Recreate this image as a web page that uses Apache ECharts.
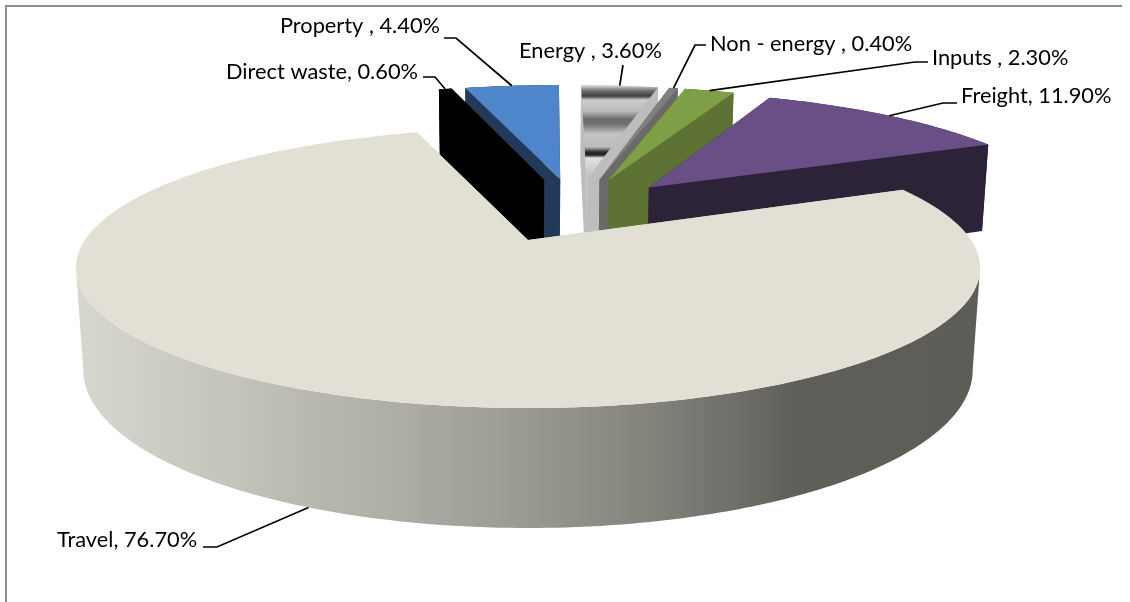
<!DOCTYPE html>
<html>
<head>
<meta charset="utf-8">
<style>html,body{margin:0;padding:0;background:#fff}#c{width:1130px;height:602px}</style>
<script src="https://cdn.jsdelivr.net/npm/echarts@6/dist/echarts.min.js"></script>
</head>
<body>
<div id="c"></div>
<script>
// ---- data, clockwise from the start of the first slice ----
const categories = ['Travel', 'Direct waste', 'Property ', 'Energy ', 'Non - energy ', 'Inputs ', 'Freight'];
const values = [76.7, 0.6, 4.4, 3.6, 0.4, 2.3, 11.9];

// ---- styling, same order ----
const topColors = ['#e2e0d5', '#000000', '#4f86cb', null, '#808080', '#7f9f47', '#6a4f87'];
const cutColors = ['#c8c7bd', '#000000', '#23395a', '#bdbdbd', '#6a6a6a', '#5e7233', '#2d2339'];
const energyStops = [[85,'#e6e6e6'],[90,'#7a7a7a'],[96,'#3c3c3c'],[100,'#cccccc'],[111,'#bbbbbb'],[119,'#6c6c6c'],[124,'#707070'],[134,'#c4c4c4'],[147,'#bcbcbc'],[152,'#2a2a2a'],[155,'#222222'],[158,'#e2e2e2'],[172,'#c8c8c8'],[182,'#a8a8a8']];
const travelSideStops = [[76,'#d8d7cf'],[200,'#c9c8bf'],[400,'#aeada4'],[530,'#9a9991'],[650,'#83827b'],[800,'#5f5e59'],[980,'#5d5c57']];

// ---- layout ----
const drawOrder = [3, 4, 5, 6, 2, 1, 0];          // painter's order, back to front
const firstAngle = 66.2, explode = 0.26, offX = 0.113, offV = -0.24;
const cx = 528, cy = 240, A = 443, B = 134.4, k = 0.2, depthC = 100.6, depthW = 0.016;
const labelPos = [[57,540,'left'],[418,72,'right'],[440,26,'right'],[519,51,'left'],[710,44,'left'],[932,58,'left'],[961,96,'left']];
const leaderElbows = [
  [[203,547],[217,547]], [[423,77],[435,77]], [[444,38],[456,38]], [[623,65]],
  [[706,45],[695,45]], [[928,62],[915,62]], [[957,103],[943,103]]
];
const fontCss = '21.8px Lato, "Open Sans", sans-serif';

const total = values.reduce((a, b) => a + b, 0);
const starts = [];
values.reduce((acc, v, i) => { starts[i] = acc; return acc + v / total * 360; }, firstAngle);

function proj(u, v, z) {
  const w = 1 - k * v + z * depthW;
  return [cx + A * u / w, cy + (B * v + z * depthC) / w];
}
function dir(deg) {
  const r = deg * Math.PI / 180;
  return [Math.sin(r), -Math.cos(r)];
}
function gradient(stops, x, y, x2, y2) {
  const a = stops[0][0], b = stops[stops.length - 1][0];
  return { type: 'linear', global: true, x, y, x2, y2,
    colorStops: stops.map(s => ({ offset: (s[0] - a) / (b - a), color: s[1] })) };
}
// index of the extreme (silhouette) points of an arc
function extremes(arc) {
  let lo = 0, hi = 0;
  arc.forEach((p, j) => { if (p[0] < arc[lo][0]) lo = j; if (p[0] > arc[hi][0]) hi = j; });
  return [Math.min(lo, hi), Math.max(lo, hi)];
}

function sliceApex(i, d) {
  return i === 0 ? [0, 0] : [offX + explode * d[0], offV + explode * d[1]];
}

function renderSlice(params, api) {
  const i = api.value(1);
  const a0 = starts[i], a1 = a0 + api.value(0) / total * 360, mid = (a0 + a1) / 2;
  const apex = sliceApex(i, dir(mid));
  const rim = [];
  const n = Math.max(4, Math.ceil(a1 - a0));
  for (let j = 0; j <= n; j++) {
    const q = dir(a0 + (a1 - a0) * j / n);
    rim.push([apex[0] + q[0], apex[1] + q[1]]);
  }
  const top = rim.map(p => proj(p[0], p[1], 0));
  const bot = rim.map(p => proj(p[0], p[1], 1));
  const at = proj(apex[0], apex[1], 0), ab = proj(apex[0], apex[1], 1);
  const poly = (points, fill) => ({ type: 'polygon', shape: { points }, style: { fill, stroke: null } });
  const children = [];
  const sideFill = i === 0 ? gradient(travelSideStops, travelSideStops[0][0], 0, travelSideStops[travelSideStops.length - 1][0], 0) : cutColors[i];
  const et = extremes(top), eb = extremes(bot);
  children.push(poly(top.slice(et[0], et[1] + 1).concat(bot.slice(eb[0], eb[1] + 1).reverse()), sideFill));
  children.push(poly([at, top[0], bot[0], ab], cutColors[i]));
  children.push(poly([at, top[n], bot[n], ab], cutColors[i]));
  const topFill = topColors[i] || gradient(energyStops, 0, energyStops[0][0], 0, energyStops[energyStops.length - 1][0]);
  children.push(poly([at].concat(top), topFill));
  return { type: 'group', children };
}

function renderLabel(params, api) {
  const i = api.value(1);
  const mid = starts[i] + api.value(0) / total * 180;
  const d = dir(mid);
  const apex = sliceApex(i, d);
  const end = proj(apex[0] + d[0], apex[1] + d[1], i === 0 ? 1 : 0);
  const p = labelPos[i];
  return { type: 'group', children: [
    { type: 'polyline', shape: { points: leaderElbows[i].concat([end]) }, style: { stroke: '#000', lineWidth: 1.7, fill: null } },
    { type: 'text', style: { text: categories[i] + ', ' + api.value(0).toFixed(2) + '%', x: p[0], y: p[1], align: p[2], verticalAlign: 'middle', font: fontCss, fill: '#000' } }
  ] };
}

const chart = echarts.init(document.getElementById('c'), null, { renderer: 'canvas' });
chart.setOption({
  backgroundColor: '#ffffff',
  animation: false,
  graphic: { elements: [
    { type: 'polyline', shape: { points: [[6, 602], [6, 6], [1122, 6]] }, style: { stroke: '#8f8f8f', lineWidth: 2, fill: null }, silent: true }
  ] },
  series: [
    { type: 'custom', coordinateSystem: 'none', renderItem: renderSlice, silent: true, z: 2,
      data: drawOrder.map(i => [values[i], i]) },
    { type: 'custom', coordinateSystem: 'none', renderItem: renderLabel, silent: true, z: 3,
      data: values.map((v, i) => [v, i]) }
  ]
});
</script>
</body>
</html>
